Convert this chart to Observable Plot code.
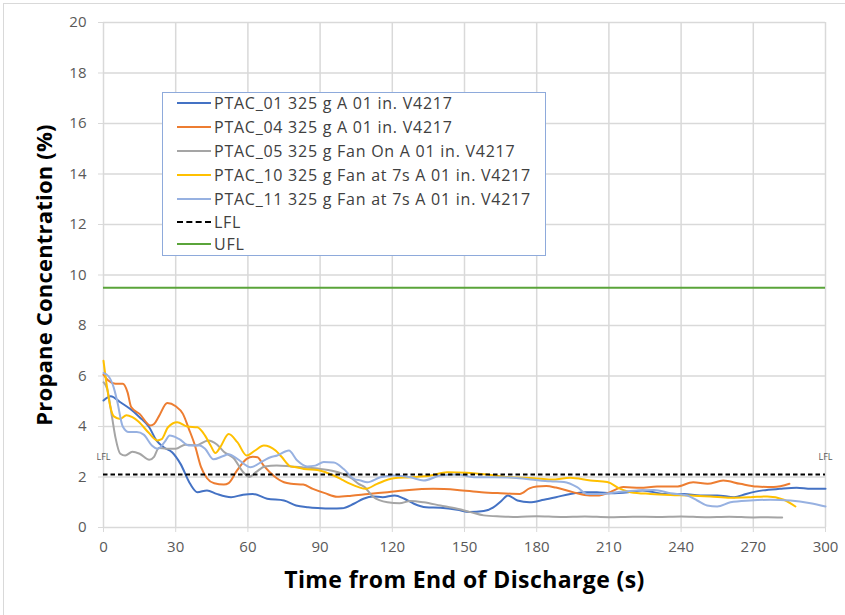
<!DOCTYPE html>
<html>
<head>
<meta charset="utf-8">
<script src="https://cdn.jsdelivr.net/npm/d3@7"></script>
<script src="https://cdn.jsdelivr.net/npm/@observablehq/plot@0.6"></script>
<style>
  html, body { margin: 0; padding: 0; background: #fff; }
  #wrap { position: relative; width: 845px; height: 615px; overflow: hidden; font-family: "Open Sans", sans-serif; }
  #frame { position: absolute; left: 3px; top: 3px; width: 900px; height: 700px; border-left: 1px solid #d9d9d9; border-top: 1px solid #d9d9d9; pointer-events: none; }
  #legend { position: absolute; left: 162px; top: 92px; width: 384px; height: 164px; border: 1px solid #8eaadb; background: #fff; box-sizing: border-box; }
  .item { position: absolute; left: 14px; height: 20px; display: flex; align-items: center; font-size: 16px; letter-spacing: 0.75px; color: #404040; white-space: nowrap; }
  .swatch { width: 34px; height: 0; margin-right: 3px; }
  svg text { font-family: "Open Sans", sans-serif; }
  g[aria-label="x-axis label"] text { font-size: 23px; letter-spacing: 0.4px; font-weight: bold; fill: #000; }
  g[aria-label="y-axis label"] text { font-size: 22px; letter-spacing: 0.2px; font-weight: bold; fill: #000; }
  g[aria-label="x-axis tick label"] text, g[aria-label="y-axis tick label"] text { font-size: 15px; }
</style>
</head>
<body>
<div id="wrap"><div id="frame"></div></div>
<script>
// ---- data ----
const xTicks = [0, 30, 60, 90, 120, 150, 180, 210, 240, 270, 300];
const yTicks = [0, 2, 4, 6, 8, 10, 12, 14, 16, 18, 20];
const seriesNames = [
  "PTAC_01 325 g A 01 in. V4217",
  "PTAC_04 325 g A 01 in. V4217",
  "PTAC_05 325 g Fan On A 01 in. V4217",
  "PTAC_10 325 g Fan at 7s A 01 in. V4217",
  "PTAC_11 325 g Fan at 7s A 01 in. V4217"
];
const seriesColors = ["#4472c4", "#ed7d31", "#a5a5a5", "#ffc000", "#97b1e1"];
const lfl = 2.1;
const ufl = 9.5;

const t01 = [0,3,7,11,15,19,22,25,28.5,32,36,39,43,47,53,58,62,68,75,80,85,89,95,99,104,108,112,116,121,125,129,134,140,147,152,158,162,165.5,168,172,177,183,188,194,200,205,211,218,224,233,241,248,255,262,267,274,281,288,294,300];
const v01 = [5.03,5.2,4.96,4.7,4.37,3.97,3.45,3.18,2.98,2.52,1.73,1.4,1.47,1.33,1.2,1.3,1.33,1.14,1.07,0.87,0.8,0.77,0.75,0.76,0.94,1.14,1.23,1.2,1.27,1.14,0.94,0.8,0.78,0.7,0.61,0.65,0.8,1.07,1.27,1.07,1.0,1.1,1.2,1.33,1.4,1.4,1.36,1.4,1.47,1.33,1.33,1.27,1.27,1.2,1.33,1.47,1.53,1.57,1.53,1.53];

const t04 = [0,2,5,8,10,11.5,15,19.5,21,23,26.5,30,33,35.5,38,40.5,43,46,50,52,55.5,59.5,62,64,66.5,69,72,75,78,83,87,92,97,103,110,118,127,137,147,157,165,173,177,180,184,188,195,202,206,210.5,216,223,230,238,245,251,257.5,264.5,271.5,278.5,285];
const v04 = [6.05,5.82,5.69,5.69,5.35,4.77,4.5,4.04,4.1,4.4,4.93,4.8,4.5,3.9,3.25,2.4,1.95,1.75,1.7,1.76,2.26,2.72,2.8,2.78,2.46,2.2,1.95,1.79,1.73,1.7,1.53,1.36,1.22,1.26,1.33,1.4,1.49,1.53,1.49,1.4,1.36,1.33,1.55,1.62,1.64,1.58,1.4,1.27,1.27,1.4,1.6,1.57,1.62,1.62,1.79,1.73,1.86,1.73,1.62,1.6,1.73];

const t05 = [0,1.5,3.5,5,7,9,12,15,19,21,23,26,30,34,38.5,43.5,47,50,54,58,60.5,63.5,67,72,78,83,90,95,99.5,103,106,108.5,112,118,123,127.5,133,140,147,152.5,158,165,172,180,190,200,210,220,230,240,250,260,270,276,282];
const v05 = [5.75,5.5,4.4,3.55,2.92,2.85,3.0,2.92,2.68,2.8,3.15,3.12,3.12,3.28,3.25,3.45,3.3,3.0,2.75,2.2,2.0,2.2,2.42,2.46,2.42,2.38,2.32,2.25,2.12,1.95,1.73,1.6,1.22,1.0,0.96,1.05,1.0,0.87,0.74,0.61,0.48,0.44,0.42,0.45,0.42,0.44,0.41,0.43,0.42,0.44,0.41,0.43,0.4,0.41,0.4];

const t10 = [0,1.4,2.8,4.3,7,9.5,12,14.5,18.8,22.3,24.2,26.8,30.6,34.8,39,42.2,44.5,46.5,48.5,52,55.6,59.5,63,66.6,71.5,74,77.7,80.5,83.2,88.8,92,95.6,99,102.6,106,108.9,113.7,120.6,127.5,135.9,142.8,151,159.4,167.7,178.8,186,194,202.3,209.3,214.8,219,227.3,235.6,243.9,252.2,260.5,268.8,275.8,282.7,287.5];
const v10 = [6.6,5.6,4.8,4.4,4.3,4.45,4.37,4.2,3.75,3.45,3.5,3.97,4.17,4.0,3.97,3.64,3.25,2.95,3.18,3.7,3.38,2.85,3.05,3.25,3.05,2.8,2.42,2.38,2.32,2.28,2.2,2.06,1.9,1.73,1.6,1.53,1.73,1.95,1.99,2.06,2.19,2.17,2.1,2.0,1.95,1.9,1.97,1.86,1.8,1.53,1.4,1.33,1.29,1.27,1.23,1.18,1.2,1.23,1.1,0.83];

const t11 = [0,2,4.2,5.7,8,10.5,13.8,16.7,20.1,22.5,25.5,27.5,31.5,35.5,40,42.2,45.7,49.5,52,55.6,61.1,66.6,69.4,72.2,77,80.5,84.6,88,91.5,95.7,99.8,104,106.8,109.6,115.1,120.6,127.5,133,140,147,153.9,162.2,170.5,178.8,185.7,191.3,196.8,201,206.5,213.4,221.7,228.7,235.6,242.5,246.7,250.8,255,260.5,268.8,277.1,285.4,293.8,300];
const v11 = [6.12,6.0,5.56,5.0,4.0,3.78,3.78,3.68,3.25,3.12,3.4,3.64,3.5,3.25,3.25,3.12,2.7,2.82,2.9,2.72,2.39,2.65,2.78,2.85,3.05,2.65,2.42,2.45,2.59,2.57,2.32,1.93,1.86,1.79,1.99,2.06,1.99,1.86,2.06,2.1,1.99,1.99,1.97,1.89,1.83,1.8,1.6,1.33,1.33,1.4,1.47,1.49,1.36,1.27,1.07,0.87,0.83,1.0,1.07,1.1,1.07,0.96,0.83];

// ---- build ----
const toRows = (ts, vs) => ts.map((t, i) => ({t, v: vs[i]}));
const allSeries = [toRows(t01, v01), toRows(t04, v04), toRows(t05, v05), toRows(t10, v10), toRows(t11, v11)];

const lineMarks = allSeries.map((rows, i) =>
  Plot.line(rows, {x: "t", y: "v", stroke: seriesColors[i], strokeWidth: 2, curve: "monotone-x"})
);

const chart = Plot.plot({
  width: 845,
  height: 615,
  marginLeft: 103,
  marginRight: 20,
  marginTop: 22,
  marginBottom: 88,
  style: {background: "transparent", color: "#595959", fontSize: "14px", fontFamily: "Open Sans, sans-serif"},
  x: {domain: [0, 300]},
  y: {domain: [0, 20]},
  marks: [
    Plot.gridX(xTicks, {stroke: "#d9d9d9", strokeOpacity: 1, strokeWidth: 1.5}),
    Plot.gridY(yTicks, {stroke: "#d9d9d9", strokeOpacity: 1, strokeWidth: 1.5}),
    Plot.axisX({ticks: xTicks, tickSize: 5, tickPadding: 9, stroke: "#d9d9d9", strokeOpacity: 1,
      label: "Time from End of Discharge (s)", labelAnchor: "center", labelArrow: "none", labelOffset: 60}),
    Plot.axisY({ticks: yTicks, tickSize: 5, tickPadding: 12, stroke: "#d9d9d9", strokeOpacity: 1,
      label: "Propane Concentration (%)", labelAnchor: "center", labelArrow: "none", labelOffset: 67}),
    Plot.ruleY([ufl], {stroke: "#5aa43a", strokeWidth: 2}),
    ...lineMarks,
    Plot.ruleY([lfl], {stroke: "#000", strokeWidth: 2, strokeDasharray: "4.5,3"}),
    Plot.text([0], {x: d => d, y: () => lfl, text: () => "LFL", dy: -17, fontSize: 9, fill: "#595959"}),
    Plot.text([300], {x: d => d, y: () => lfl, text: () => "LFL", dy: -17, fontSize: 9, fill: "#595959"})
  ]
});

const wrap = document.getElementById("wrap");
wrap.insertBefore(chart, wrap.firstChild);

// legend overlay
const legend = document.createElement("div");
legend.id = "legend";
const legendItems = [
  ...seriesNames.map((n, i) => ({name: n, color: seriesColors[i], dash: false})),
  {name: "LFL", color: "#000", dash: true},
  {name: "UFL", color: "#5aa43a", dash: false}
];
const rowTops = [0, 24, 48, 72, 96, 119, 141];
legendItems.forEach((it, i) => {
  const row = document.createElement("div");
  row.className = "item";
  row.style.top = rowTops[i] + "px";
  const sw = document.createElement("span");
  sw.className = "swatch";
  sw.style.borderTop = `2px ${it.dash ? "dashed" : "solid"} ${it.color}`;
  const tx = document.createElement("span");
  tx.textContent = it.name;
  row.appendChild(sw);
  row.appendChild(tx);
  legend.appendChild(row);
});
wrap.appendChild(legend);
</script>
</body>
</html>
